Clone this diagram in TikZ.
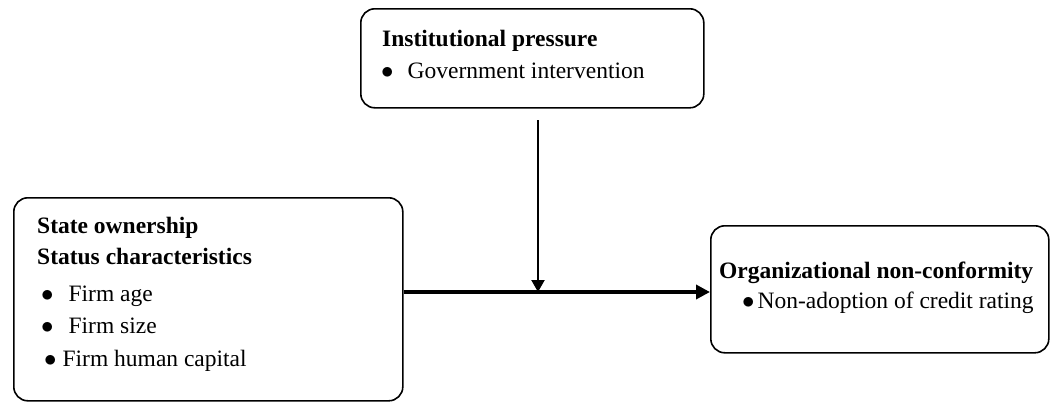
\documentclass[tikz,border=0pt]{standalone}
\usepackage{fontspec}
\setmainfont{Liberation Serif}
\usetikzlibrary{arrows.meta,positioning,calc}
\tikzstyle{factor}=[draw, rounded corners=14pt, line width=1.6pt, anchor=north west, inner sep=0pt]
\tikzstyle{txt}=[anchor=base west, inner sep=0pt, font=\fontsize{23.5}{30}\selectfont]
\tikzstyle{head}=[txt, font=\fontsize{23.5}{30}\selectfont\bfseries]
\tikzstyle{mainarrow}=[line width=4.5pt, -{Triangle[length=14pt,width=14pt]}]
\tikzstyle{modarrow}=[line width=2.2pt, -{Triangle[length=12pt,width=13pt]}]
\newcommand{\bul}[1]{$\bullet$\hspace{#1}}

\begin{document}
\begin{tikzpicture}[x=1pt,y=-1pt]
  \useasboundingbox (0,0) rectangle (1052,402);
  % boxes
  \node[factor, minimum width=343pt, minimum height=99pt] (inst) at (360,8) {};
  \node[factor, minimum width=389pt, minimum height=203pt] (state) at (13,197) {};
  \node[factor, minimum width=338pt, minimum height=127pt] (outcome) at (710,225) {};

  % institutional pressure
  \node[head] (insttitle) at (382,46) {Institutional pressure};
  \node[txt] (gov) at (381,78) {\bul{14pt}Government intervention};

  % state ownership
  \node[head] (statetitle) at (37,233) {State ownership};
  \node[head] (status) at (37,264) {Status characteristics};
  \node[txt] (age) at (41,301) {\bul{15pt}Firm age};
  \node[txt] (size) at (41,333) {\bul{15pt}Firm size};
  \node[txt] (human) at (44,366) {\bul{6pt}Firm human capital};

  % non-conformity
  \node[head] (outtitle) at (719,278) {Organizational non-conformity};
  \node[txt] (rating) at (742,308) {\bul{3pt}Non-adoption of credit rating};

  % arrows
  \coordinate (join) at (538,292);
  \coordinate (modtop) at (538,120);
  \draw[mainarrow] (state.east |- join) -- (outcome.west |- join);
  \draw[modarrow] (modtop) -- (join);
\end{tikzpicture}
\end{document}
